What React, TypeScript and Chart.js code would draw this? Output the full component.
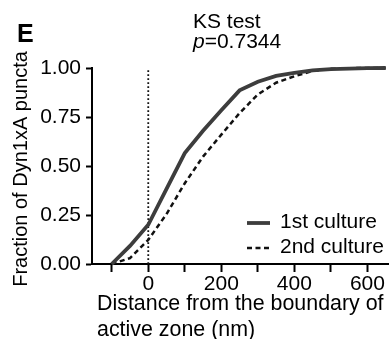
import React, { useEffect, useRef } from 'react';
import { Chart, registerables } from 'chart.js';

Chart.register(...registerables);

const distances = [-100, -50, 0, 50, 100, 150, 200, 250, 300, 350, 400, 450, 500, 550, 600, 650];
const firstCulture = [0, 0.092, 0.2, 0.383, 0.566, 0.68, 0.785, 0.886, 0.93, 0.96, 0.975, 0.988, 0.994, 0.997, 0.999, 1.0];
const secondCulture = [0, 0.03, 0.123, 0.255, 0.412, 0.548, 0.66, 0.77, 0.865, 0.925, 0.958, 0.985, 0.996, 0.999, 1.0, 1.0];
const seriesLabels = ['1st culture', '2nd culture'];
const xTickValues = [-100, 0, 100, 200, 300, 400, 500, 600];
const xLabelledTicks = [0, 200, 400, 600];
const yTickValues = [0, 0.25, 0.5, 0.75, 1];
const boundaryX = [0, 0];
const boundaryY = [0, 1];
const xRange = [-154, 659];
const statTitle = 'KS test';
const pValueText = '0.7344';
const xTitleLines = ['Distance from the boundary of', 'active zone (nm)'];
const yTitle = 'Fraction of Dyn1xA puncta';
const panelLetter = 'E';

const FONT = "'Liberation Sans', Arial, Helvetica, sans-serif";

const decorPlugin = {
  id: 'decor',
  afterDraw(chart: any) {
    const ctx = chart.ctx;
    ctx.save();
    ctx.fillStyle = '#000';
    ctx.textAlign = 'left';
    ctx.textBaseline = 'alphabetic';
    // panel letter
    ctx.font = `bold 25px ${FONT}`;
    ctx.fillText(panelLetter, 17, 42);
    // stats title
    ctx.font = `21px ${FONT}`;
    ctx.fillText(statTitle, 193, 28);
    ctx.font = `italic 21px ${FONT}`;
    ctx.fillText('p', 193, 48);
    const pw = ctx.measureText('p').width;
    ctx.font = `21px ${FONT}`;
    ctx.fillText('=' + pValueText, 193 + pw, 48);
    // x title (left aligned)
    ctx.font = `21.4px ${FONT}`;
    ctx.fillText(xTitleLines[0], 97, 310);
    ctx.fillText(xTitleLines[1], 97, 336);
    // y title (rotated)
    ctx.save();
    ctx.translate(27, 169);
    ctx.rotate(-Math.PI / 2);
    ctx.textAlign = 'center';
    ctx.font = `20px ${FONT}`;
    ctx.fillText(yTitle, 0, 0);
    ctx.restore();
    // legend
    ctx.font = `21px ${FONT}`;
    const ys = [223, 248];
    chart.data.datasets.slice(0, 2).forEach((ds: any, i: number) => {
      const y = ys[i];
      ctx.beginPath();
      ctx.strokeStyle = ds.borderColor;
      ctx.lineWidth = ds.borderWidth;
      ctx.setLineDash(ds.borderDash || []);
      ctx.moveTo(247, y);
      ctx.lineTo(270, y);
      ctx.stroke();
      ctx.setLineDash([]);
      ctx.textBaseline = 'middle';
      ctx.fillStyle = '#000';
      ctx.fillText(ds.label, 280, y - 1);
    });
    ctx.restore();
  },
};

export default function App() {
  const canvasRef = useRef<HTMLCanvasElement | null>(null);

  useEffect(() => {
    if (!canvasRef.current) return;
    const chart = new Chart(canvasRef.current, {
      type: 'line',
      data: {
        datasets: [
          {
            label: seriesLabels[0],
            data: distances.map((d, i) => ({ x: d, y: firstCulture[i] })),
            borderColor: '#3d3d3d',
            borderWidth: 3.8,
            pointRadius: 0,
            tension: 0,
            fill: false,
            clip: false as any,
          },
          {
            label: seriesLabels[1],
            data: distances.map((d, i) => ({ x: d, y: secondCulture[i] })),
            borderColor: '#111',
            borderWidth: 2.5,
            borderDash: [5, 3.5],
            pointRadius: 0,
            tension: 0,
            fill: false,
            clip: false as any,
          },
          {
            label: 'boundary',
            data: boundaryX.map((d, i) => ({ x: d, y: boundaryY[i] })),
            borderColor: '#111',
            borderWidth: 1.8,
            borderDash: [1.8, 2.2],
            pointRadius: 0,
            fill: false,
          },
        ],
      },
      options: {
        animation: false,
        responsive: false,
        maintainAspectRatio: false,
        layout: { padding: { top: 68, right: 0, left: 0, bottom: 0 } },
        plugins: {
          legend: { display: false },
          tooltip: { enabled: false },
        },
        scales: {
          x: {
            type: 'linear',
            min: xRange[0],
            max: xRange[1],
            afterBuildTicks: (scale: any) => {
              scale.ticks = xTickValues.map((v) => ({ value: v }));
            },
            afterFit: (scale: any) => {
              scale.height = 75;
            },
            ticks: {
              callback: (v: any) => (xLabelledTicks.includes(Number(v)) ? String(v) : ''),
              color: '#000',
              font: { family: FONT, size: 21 },
              padding: 0,
              maxRotation: 0,
              autoSkip: false,
            },
            grid: {
              display: true,
              drawOnChartArea: false,
              drawTicks: true,
              tickLength: 8,
              tickWidth: 2,
              tickColor: '#000',
              color: '#000',
            },
            border: { display: true, color: '#000', width: 2 },
          },
          y: {
            type: 'linear',
            min: 0,
            max: 1,
            afterBuildTicks: (scale: any) => {
              scale.ticks = yTickValues.map((v) => ({ value: v }));
            },
            afterFit: (scale: any) => {
              scale.width = 92;
            },
            ticks: {
              callback: (v: any) => Number(v).toFixed(2),
              color: '#000',
              font: { family: FONT, size: 21 },
              padding: 5,
            },
            grid: {
              display: true,
              drawOnChartArea: false,
              drawTicks: true,
              tickLength: 6,
              tickWidth: 2,
              tickColor: '#000',
              color: '#000',
            },
            border: { display: true, color: '#000', width: 2 },
          },
        },
      },
      plugins: [decorPlugin],
    });
    return () => chart.destroy();
  }, []);

  return (
    <div style={{ position: 'fixed', left: 0, top: 0, width: 389, height: 339, background: '#fff' }}>
      <canvas ref={canvasRef} width={389} height={339} />
    </div>
  );
}
